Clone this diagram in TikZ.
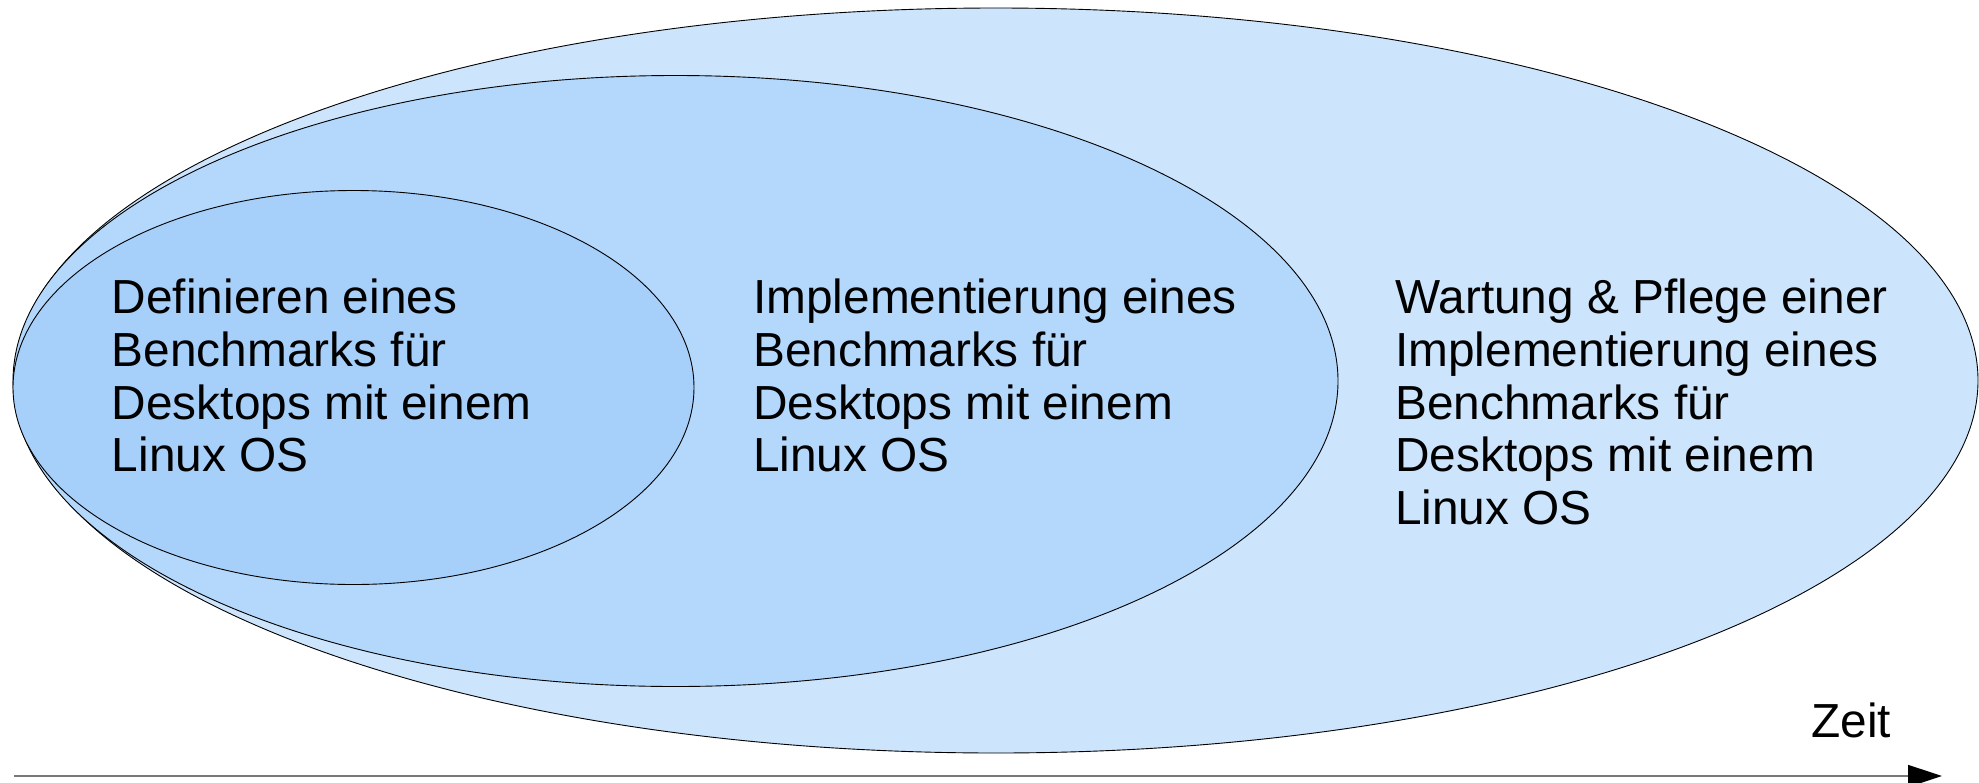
\documentclass[tikz,border=0pt]{standalone}
\usepackage{fontspec}
\setmainfont{Liberation Sans}
\usetikzlibrary{arrows.meta}
\definecolor{outerfill}{RGB}{204,228,252}
\definecolor{midfill}{RGB}{179,216,252}
\definecolor{innerfill}{RGB}{166,207,250}
\definecolor{axisgray}{RGB}{120,120,120}
\tikzset{
  blob/.style={draw=black, line width=0.9pt},
  label/.style={anchor=base west, inner sep=0pt, font=\fontsize{47.8}{52.8}\selectfont},
}
\newcommand{\lines}[1]{\parbox[t]{700pt}{\raggedright #1}}
\begin{document}
\begin{tikzpicture}[x=1pt,y=-1pt]
\useasboundingbox (0,0) rectangle (1979,782);
\fill[white] (0,0) rectangle (1979,782);
\draw[blob, fill=outerfill] (996,380.5) ellipse [x radius=982, y radius=372.5];
\draw[blob, fill=midfill] (675.5,381) ellipse [x radius=662.5, y radius=305.5];
\draw[blob, fill=innerfill] (353.5,387.5) ellipse [x radius=340.5, y radius=197];
\node[label] (t1) at (111.7,313.5) {\lines{Definieren eines\\Benchmarks für\\Desktops mit einem\\Linux OS}};
\node[label] (t2) at (753,313.5) {\lines{Implementierung eines\\Benchmarks für\\Desktops mit einem\\Linux OS}};
\node[label] (t3) at (1395,313.5) {\lines{Wartung \& Pflege einer\\Implementierung eines\\Benchmarks für\\Desktops mit einem\\Linux OS}};
\node[label] (zeit) at (1811,737) {Zeit};
\coordinate (a0) at (14,776);
\coordinate (a1) at (1942,776);
\draw[axisgray, line width=1.6pt, -{Triangle[length=34pt,width=22pt,color=black]}] (a0) -- (a1);
\end{tikzpicture}
\end{document}
